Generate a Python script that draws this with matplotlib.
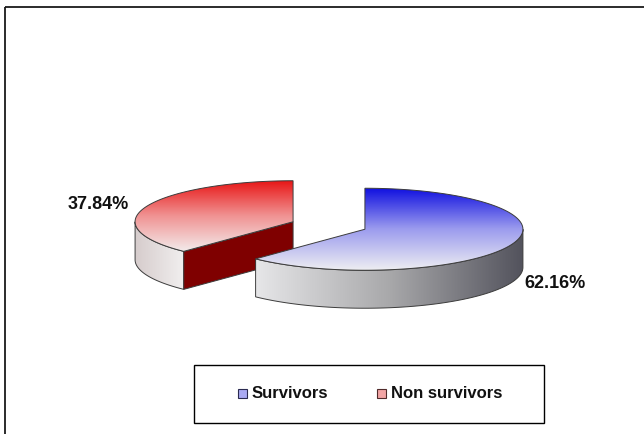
import numpy as np
import matplotlib.pyplot as plt
from matplotlib.patches import Polygon, Rectangle
from matplotlib.colors import LinearSegmentedColormap

plt.rcParams['font.family'] = ['Liberation Sans', 'DejaVu Sans']

# ---- data ----
categories = ['Survivors', 'Non survivors']
shares = [62.16, 37.84]

# top-face gradient (top -> bottom), outer side gradient (left -> right), cut face
top_colors = [['#1010e0', '#9c9cee', '#ededf2'],
              ['#e81414', '#f09292', '#f3eaea']]
side_colors = [['#e6e6e8', '#a8a8aa', '#52525c'],
               ['#d6cccc', '#f1efef']]
cut_colors = ['#00007a', '#7f0000']
legend_colors = [('#a9a9f2', '#2a2a50'), ('#f2a4a4', '#502a2a')]

# ---- pie geometry (pixel space) ----
W, H = 644, 434
cx, cy = 329, 225.5     # centre of the unexploded pie
a, b = 158, 41          # ellipse semi-axes of the tilted top
depth = 38              # slice thickness
explode = 0.245
start = 90.0            # first slice starts at 12 o'clock, runs clockwise

fig = plt.figure(figsize=(W / 100, H / 100), dpi=100)
ax = fig.add_axes([0, 0, 1, 1])
ax.axis('off')


def ell(x0, y0, t, dy=0.0):
    t = np.radians(t)
    return np.column_stack([x0 + a * np.cos(t), y0 - b * np.sin(t) + dy])


def gradient_patch(pts, colors, horizontal, z):
    poly = Polygon(pts, closed=True, fc='none', ec='#3c3c3c', lw=0.7, zorder=z + 0.1)
    ax.add_patch(poly)
    x0, x1 = pts[:, 0].min(), pts[:, 0].max()
    y0, y1 = pts[:, 1].min(), pts[:, 1].max()
    g = np.linspace(0, 1, 256)
    arr = g[None, :] if horizontal else g[:, None]
    cmap = LinearSegmentedColormap.from_list('g', colors)
    im = ax.imshow(arr, cmap=cmap, extent=(x0, x1, y1, y0), origin='upper',
                   aspect='auto', interpolation='bilinear', zorder=z)
    im.set_clip_path(poly)


# build slices as angle ranges (counter-clockwise t1 -> t2)
slices = []
t_hi = start
for i, v in enumerate(shares):
    span = 360.0 * v / 100.0
    t_lo = t_hi - span
    mid = np.radians((t_lo + t_hi) / 2)
    sx = cx + explode * a * np.cos(mid)
    sy = cy - explode * b * np.sin(mid)
    slices.append(dict(i=i, t1=t_lo, t2=t_hi, x=sx, y=sy, mid=mid))
    t_hi = t_lo

# back slices first
for k, s in enumerate(sorted(slices, key=lambda d: d['y'])):
    i, t1, t2, sx, sy = s['i'], s['t1'], s['t2'], s['x'], s['y']
    z = 2 + 3 * k

    # outer wall: only the front half (sin < 0) can be seen
    for base in (-360, 0, 360):
        lo, hi = max(t1, base + 180), min(t2, base + 360)
        if hi > lo:
            tt = np.linspace(lo, hi, 120)
            pts = np.vstack([ell(sx, sy, tt), ell(sx, sy, tt[::-1], depth)])
            gradient_patch(pts, side_colors[i], True, z)

    # radial cut faces turned towards the viewer
    for t, visible in ((t1, np.cos(np.radians(t1)) > 0.05),
                       (t2, np.cos(np.radians(t2)) < -0.05)):
        if visible:
            e = ell(sx, sy, [t])[0]
            pts = np.array([[sx, sy], e, e + [0, depth], [sx, sy + depth]])
            ax.add_patch(Polygon(pts, closed=True, fc=cut_colors[i], ec='#3c3c3c',
                                 lw=0.7, zorder=z + 0.5))

    # top face
    tt = np.linspace(t1, t2, 200)
    pts = np.vstack([[sx, sy], ell(sx, sy, tt)])
    gradient_patch(pts, top_colors[i], False, z + 1)

    # percentage label outside the slice
    m = s['mid']
    if np.cos(m) < 0:
        lx, ly = sx + 1.12 * a * np.cos(m), sy - 1.12 * b * np.sin(m)
        ax.text(lx, ly, f'{shares[i]:.2f}%', ha='right', va='center',
                fontsize=13, fontweight='bold', color='#111111', zorder=20)
    else:
        lx, ly = sx + 1.09 * a * np.cos(m), sy - 1.09 * b * np.sin(m) + depth
        ax.text(lx, ly, f'{shares[i]:.2f}%', ha='left', va='center',
                fontsize=13, fontweight='bold', color='#111111', zorder=20)

# ---- legend ----
ax.add_patch(Rectangle((194, 365), 350, 58, fc='white', ec='black', lw=1.0, zorder=20))
for (fc, ec), label, lx in zip(legend_colors, categories, (238, 377)):
    ax.add_patch(Rectangle((lx, 389), 9, 9, fc=fc, ec=ec, lw=0.8, zorder=21))
    ax.text(lx + 14, 394, label, ha='left', va='center', fontsize=12,
            fontweight='bold', color='#111111', zorder=21)

# chart frame (runs off the right and bottom edges)
ax.add_patch(Rectangle((5.5, 6.5), 700, 500, fc='none', ec='#1a1a1a', lw=1.3, zorder=25))

ax.set_xlim(0, W)
ax.set_ylim(H, 0)
fig.savefig('out.png', dpi=100)
